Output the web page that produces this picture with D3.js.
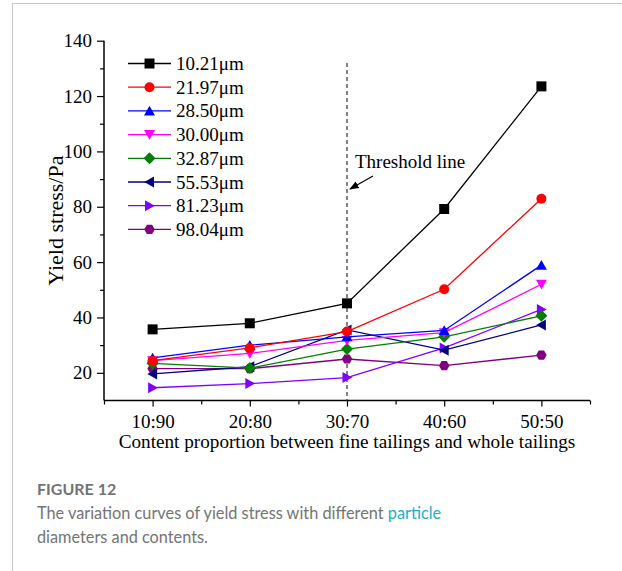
<!DOCTYPE html>
<html>
<head>
<meta charset="utf-8">
<script src="https://cdn.jsdelivr.net/npm/d3@7"></script>
<style>
  html, body { margin: 0; padding: 0; background: #fff; }
  svg { display: block; }
</style>
</head>
<body>
<svg id="chart" width="622" height="571"></svg>
<script>
// Content proportion (fine : whole tailings)
const categories = ["10:90", "20:80", "30:70", "40:60", "50:50"];

// Particle diameter series
const seriesNames = ["10.21μm", "21.97μm", "28.50μm", "30.00μm", "32.87μm", "55.53μm", "81.23μm", "98.04μm"];
const seriesColors = ["#000000", "#ff0000", "#0000ff", "#ff00ff", "#008000", "#000080", "#8000ff", "#800080"];
const seriesShapes = ["square", "circle", "triUp", "triDown", "diamond", "triLeft", "triRight", "hexagon"];

// Yield stress (Pa) per series, one value per category
const s1021 = [35.7, 37.9, 45.1, 79.2, 123.5];
const s2197 = [24.4, 29.0, 34.9, 50.2, 82.9];
const s2850 = [25.4, 30.0, 33.0, 35.3, 58.9];
const s3000 = [24.4, 27.0, 31.7, 34.5, 52.0];
const s3287 = [23.4, 21.7, 28.6, 33.0, 40.6];
const s5553 = [19.6, 22.2, 35.5, 28.2, 37.3];
const s8123 = [14.6, 16.1, 18.3, 29.0, 42.9];
const s9804 = [21.5, 21.5, 25.0, 22.6, 26.4];
const seriesValues = [s1021, s2197, s2850, s3000, s3287, s5553, s8123, s9804];

// Y axis ticks
const yMajorTicks = [20, 40, 60, 80, 100, 120, 140];
const yMinorTicks = [30, 50, 70, 90, 110, 130];

const thresholdCategory = "30:70";
const thresholdLabel = "Threshold line";

const svg = d3.select("#chart");
const serif = "'Liberation Serif', 'Times New Roman', serif";

// Page card border (top and left edges)
svg.append("path")
  .attr("d", "M12.5,571 V3.5 H622")
  .attr("fill", "none")
  .attr("stroke", "#c8c8c8")
  .attr("stroke-width", 1);

const x = d3.scaleLinear().domain([0.5, 5.5]).range([104, 590]);
const y = d3.scaleLinear().domain([10, 140]).range([400.5, 40.7]);
const xi = c => x(categories.indexOf(c) + 1);

const g = svg.append("g");

// Y axis: major ticks with labels, minor ticks without
const yAxis = d3.axisLeft(y).tickValues(yMajorTicks).tickSize(7).tickPadding(5).tickFormat(d3.format("d"));
const yAxisMinor = d3.axisLeft(y).tickValues(yMinorTicks).tickSize(4).tickFormat("");
const gy = g.append("g").attr("transform", "translate(104,0)").call(yAxis);
g.append("g").attr("transform", "translate(104,0)").call(yAxisMinor).select(".domain").remove();

// X axis: categories at major ticks, minor ticks between
const xAxis = d3.axisBottom(x).tickValues(d3.range(1, 6)).tickSize(6).tickPadding(8)
  .tickFormat(d => categories[d - 1]);
const xAxisMinor = d3.axisBottom(x).tickValues([0.5, 1.5, 2.5, 3.5, 4.5, 5.5]).tickSize(4).tickFormat("");
const gx = g.append("g").attr("transform", "translate(0,400.5)").call(xAxis);
g.append("g").attr("transform", "translate(0,400.5)").call(xAxisMinor).select(".domain").remove();

g.selectAll(".domain").attr("stroke", "#000").attr("stroke-width", 1.5);
gy.select(".domain").attr("d", `M0,${y(140)}V${y(10)}`);
gx.select(".domain").attr("d", `M${x(0.5)},0H${x(5.5)}`);
g.selectAll(".tick line").attr("stroke", "#000").attr("stroke-width", 1.2);
g.selectAll(".tick text").attr("font-family", serif).attr("font-size", 19).attr("fill", "#000");

// Axis titles
svg.append("text")
  .attr("x", x(3)).attr("y", 448)
  .attr("text-anchor", "middle")
  .attr("font-family", serif).attr("font-size", 19.2)
  .text("Content proportion between fine tailings and whole tailings");
svg.append("text")
  .attr("transform", `translate(63,${(y(10) + y(140)) / 2}) rotate(-90)`)
  .attr("text-anchor", "middle")
  .attr("font-family", serif).attr("font-size", 22)
  .text("Yield stress/Pa");

// Threshold line
const tx = xi(thresholdCategory);
svg.append("line")
  .attr("x1", tx).attr("x2", tx).attr("y1", 63).attr("y2", y(10))
  .attr("stroke", "#333").attr("stroke-width", 1.2).attr("stroke-dasharray", "4,3");
svg.append("text")
  .attr("x", 355).attr("y", 168)
  .attr("font-family", serif).attr("font-size", 19)
  .text(thresholdLabel);
svg.append("defs").append("marker")
  .attr("id", "arrow").attr("viewBox", "0 0 10 10").attr("refX", 9).attr("refY", 5)
  .attr("markerWidth", 8).attr("markerHeight", 8).attr("orient", "auto")
  .append("path").attr("d", "M0,1 L10,5 L0,9 Z").attr("fill", "#000");
svg.append("line")
  .attr("x1", 373).attr("y1", 176).attr("x2", 350).attr("y2", 189)
  .attr("stroke", "#000").attr("stroke-width", 1.2).attr("marker-end", "url(#arrow)");

// Marker shapes
function shapePath(shape, s) {
  const r = s / 2;
  switch (shape) {
    case "square": return `M${-r},${-r}H${r}V${r}H${-r}Z`;
    case "circle": return d3.symbol(d3.symbolCircle, Math.PI * r * r)();
    case "triUp": return `M0,${-r * 1.05}L${r * 1.1},${r * 0.9}L${-r * 1.1},${r * 0.9}Z`;
    case "triDown": return `M0,${r * 1.05}L${r * 1.1},${-r * 0.9}L${-r * 1.1},${-r * 0.9}Z`;
    case "triLeft": return `M${-r * 1.05},0L${r * 0.9},${r * 1.1}L${r * 0.9},${-r * 1.1}Z`;
    case "triRight": return `M${r * 1.05},0L${-r * 0.9},${r * 1.1}L${-r * 0.9},${-r * 1.1}Z`;
    case "diamond": return `M0,${-r * 1.2}L${r * 1.2},0L0,${r * 1.2}L${-r * 1.2},0Z`;
    case "hexagon": {
      const pts = d3.range(6).map(i => {
        const a = Math.PI / 3 * i;
        return [r * 1.05 * Math.cos(a), r * 1.05 * Math.sin(a)];
      });
      return "M" + pts.map(p => p.join(",")).join("L") + "Z";
    }
  }
}

const line = d3.line().x((d, i) => x(i + 1)).y(d => y(d));

// Draw series (last series underneath, first on top)
const order = d3.range(seriesValues.length).reverse();
order.forEach(k => {
  const sg = svg.append("g");
  sg.append("path")
    .datum(seriesValues[k])
    .attr("d", line)
    .attr("fill", "none")
    .attr("stroke", seriesColors[k])
    .attr("stroke-width", 1.3);
  sg.selectAll("path.pt")
    .data(seriesValues[k])
    .join("path")
    .attr("class", "pt")
    .attr("transform", (d, i) => `translate(${x(i + 1)},${y(d)})`)
    .attr("d", shapePath(seriesShapes[k], 10))
    .attr("fill", seriesColors[k]);
});

// Legend
const legend = svg.append("g");
seriesNames.forEach((name, k) => {
  const ly = 63.5 + k * 23.7;
  legend.append("line")
    .attr("x1", 128).attr("x2", 171).attr("y1", ly).attr("y2", ly)
    .attr("stroke", seriesColors[k]).attr("stroke-width", 1.3);
  legend.append("path")
    .attr("transform", `translate(149.5,${ly})`)
    .attr("d", shapePath(seriesShapes[k], 10))
    .attr("fill", seriesColors[k]);
  legend.append("text")
    .attr("x", 176).attr("y", ly + 6.5)
    .attr("font-family", serif).attr("font-size", 19)
    .text(name);
});

// Caption
const sans = "Lato, 'Open Sans', sans-serif";
svg.append("text")
  .attr("x", 37).attr("y", 495)
  .attr("font-family", sans).attr("font-size", 16).attr("font-weight", "bold")
  .attr("fill", "#747474")
  .text("FIGURE 12");
const cap1 = svg.append("text")
  .attr("x", 37).attr("y", 519)
  .attr("font-family", sans).attr("font-size", 16.3)
  .attr("fill", "#747474");
cap1.append("tspan").text("The variation curves of yield stress with different ");
cap1.append("tspan").attr("fill", "#19b1c8").text("particle");
svg.append("text")
  .attr("x", 37).attr("y", 543)
  .attr("font-family", sans).attr("font-size", 16.3)
  .attr("fill", "#747474")
  .text("diameters and contents.");
</script>
</body>
</html>
